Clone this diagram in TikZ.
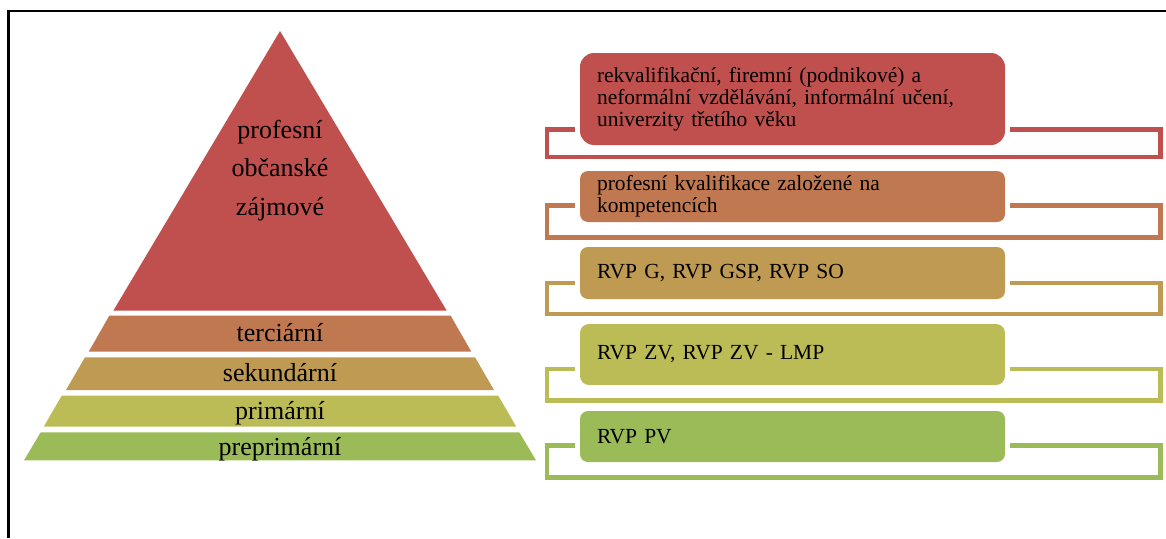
\documentclass[tikz,border=0pt]{standalone}
\usepackage{fontspec}
\setmainfont{Liberation Serif}
\definecolor{cA}{RGB}{192,80,77}
\definecolor{cB}{RGB}{192,120,80}
\definecolor{cC}{RGB}{190,154,83}
\definecolor{cD}{RGB}{188,188,87}
\definecolor{cE}{RGB}{155,187,89}
\tikzset{
  pyrtext/.style={anchor=base, font=\fontsize{26}{38.5}\selectfont, inner sep=0pt},
  infobox/.style={rounded corners=#1, inner xsep=17pt, inner ysep=0pt,
     text width=391pt, align=left, font=\fontsize{21.5}{22}\selectfont},
  bracketline/.style={line width=4.3pt, line join=miter}
}
\begin{document}
\begin{tikzpicture}[x=1pt,y=-1pt]
\useasboundingbox (0,0) rectangle (1166,538);
% frame
\draw[line width=2.3pt] (8.6,538) -- (8.6,11) -- (1166,11);
% pyramid
\fill[cA] (280,31) -- (446.7,310.7) -- (113.3,310.7) -- cycle;
\fill[cB] (109.3,315.7) -- (450.7,315.7) -- (471.3,351.7) -- (88.7,351.7) -- cycle;
\fill[cC] (85,357.3) -- (475,357.3) -- (494,390) -- (66,390) -- cycle;
\fill[cD] (61.7,395.7) -- (498.3,395.7) -- (516.3,426.7) -- (43.7,426.7) -- cycle;
\fill[cE] (40.7,432.3) -- (519.3,432.3) -- (536,460.3) -- (24,460.3) -- cycle;
\node[pyrtext] (t1) at (280,138.3) {profesní};
\node[pyrtext] (t2) at (280,176.5) {občanské};
\node[pyrtext] (t3) at (280,215) {zájmové};
\node[pyrtext] (t4) at (280,341.7) {terciární};
\node[pyrtext] (t5) at (280,381.7) {sekundární};
\node[pyrtext] (t6) at (280,419.3) {primární};
\node[pyrtext] (t7) at (280,455) {preprimární};
% brackets
\draw[bracketline, cA] (575,129.5) -- (547,129.5) -- (547,157) -- (1160.5,157) -- (1160.5,129.5) -- (1010,129.5);
\draw[bracketline, cB] (575,205.5) -- (547,205.5) -- (547,237.5) -- (1160.5,237.5) -- (1160.5,205.5) -- (1010,205.5);
\draw[bracketline, cC] (575,283.3) -- (547,283.3) -- (547,313.8) -- (1160.5,313.8) -- (1160.5,283.3) -- (1010,283.3);
\draw[bracketline, cD] (575,369) -- (547,369) -- (547,400.5) -- (1160.5,400.5) -- (1160.5,369) -- (1010,369);
\draw[bracketline, cE] (575,445.5) -- (547,445.5) -- (547,477.5) -- (1160.5,477.5) -- (1160.5,445.5) -- (1010,445.5);
% boxes
\node[infobox=14pt, fill=cA, minimum height=92pt] (b1) at (792.5,99)
  {rekvalifikační, firemní (podnikové) a\\neformální vzdělávání, informální učení,\\univerzity třetího věku};
\node[infobox=8pt, fill=cB, minimum height=51pt] (b2) at (792.5,196.5)
  {profesní kvalifikace založené na\\kompetencích};
\node[infobox=8pt, fill=cC, minimum height=52pt] (b3) at (792.5,273)
  {RVP G, RVP GSP, RVP SO};
\node[infobox=9pt, fill=cD, minimum height=61pt] (b4) at (792.5,354.5)
  {RVP ZV, RVP ZV - LMP};
\node[infobox=8pt, fill=cE, minimum height=51pt] (b5) at (792.5,436.5)
  {RVP PV};
\end{tikzpicture}
\end{document}
